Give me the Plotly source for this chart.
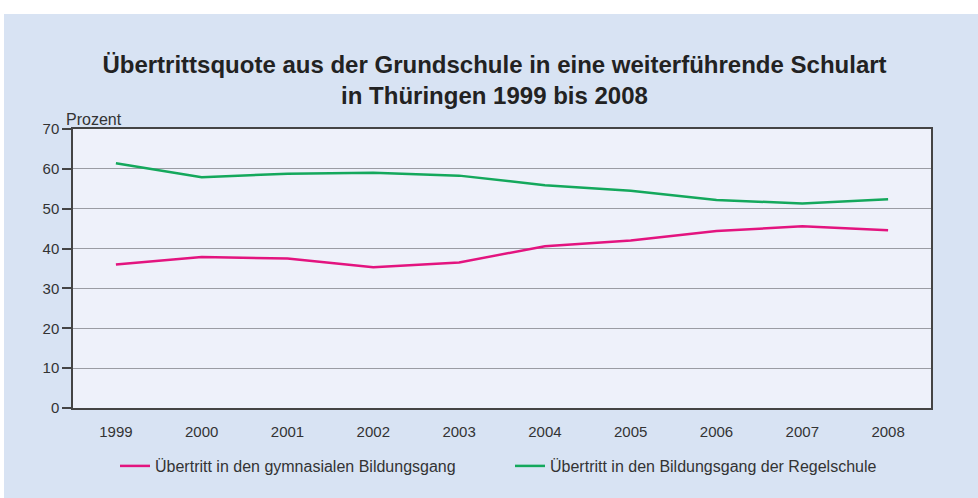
import plotly.graph_objects as go

years = ["1999", "2000", "2001", "2002", "2003", "2004", "2005", "2006", "2007", "2008"]
gymnasium = [36.0, 37.9, 37.5, 35.3, 36.5, 40.6, 42.0, 44.4, 45.6, 44.6]
regelschule = [61.4, 57.9, 58.8, 59.0, 58.3, 55.9, 54.5, 52.2, 51.3, 52.4]
name_gym = "Übertritt in den gymnasialen Bildungsgang"
name_reg = "Übertritt in den Bildungsgang der Regelschule"

PINK = "#e3147f"
GREEN = "#14a85c"
TXT = "#333333"
FONT = "Liberation Sans, Arial, sans-serif"

fig = go.Figure()
fig.add_trace(go.Scatter(x=years, y=gymnasium, mode="lines", name=name_gym,
                         line=dict(color=PINK, width=2.5)))
fig.add_trace(go.Scatter(x=years, y=regelschule, mode="lines", name=name_reg,
                         line=dict(color=GREEN, width=2.5)))

W, H = 978, 498
L, R, T, B = 73, 47, 129, 90
pw, ph = W - L - R, H - T - B

def px_x(x):
    return (x - L) / pw

def px_y(y):
    return (H - B - y) / ph

fig.update_layout(
    width=W, height=H,
    margin=dict(l=L, r=R, t=T, b=B, autoexpand=False),
    paper_bgcolor="#d8e3f3",
    plot_bgcolor="#eef1fa",
    font=dict(family=FONT, size=15, color=TXT),
    title=dict(
        text="<b>Übertrittsquote aus der Grundschule in eine weiterführende Schulart<br>in Thüringen 1999 bis 2008</b>",
        x=494.5 / W, xanchor="center", y=1 - 73 / H, yanchor="top",
        font=dict(family=FONT, size=24, color="#222222"),
    ),
    showlegend=True,
    legend=dict(orientation="h", xref="container", yref="container",
                x=115 / W, xanchor="left", y=1 - 466 / H, yanchor="middle",
                bgcolor="rgba(0,0,0,0)", entrywidth=350, entrywidthmode="pixels",
                font=dict(family=FONT, size=16, color=TXT)),
    xaxis=dict(
        type="category", range=[-0.5, 9.5], showgrid=False,
        showline=True, linecolor="#444444", linewidth=1.5, mirror=True,
        ticks="outside", ticklen=9, tickcolor="rgba(0,0,0,0)",
        tickfont=dict(family=FONT, size=15, color=TXT), zeroline=False,
    ),
    yaxis=dict(
        range=[0, 70], dtick=10, showgrid=True, gridcolor="#9a9ca3", gridwidth=1.2,
        showline=True, linecolor="#444444", linewidth=1.5, mirror=True,
        ticks="outside", ticklen=9, tickcolor="#444444", tickwidth=1.5,
        tickfont=dict(family=FONT, size=15, color=TXT), zeroline=False,
    ),
    annotations=[dict(text="Prozent", xref="paper", yref="paper",
                      x=px_x(64), y=px_y(119), xanchor="left", yanchor="middle",
                      showarrow=False, font=dict(family=FONT, size=16, color=TXT))],
    shapes=[
        dict(type="rect", xref="paper", yref="paper", x0=px_x(-5), x1=px_x(W + 5),
             y0=px_y(14), y1=px_y(-5), fillcolor="white", line=dict(width=0), layer="below"),
        dict(type="rect", xref="paper", yref="paper", x0=px_x(-5), x1=px_x(4),
             y0=px_y(H + 5), y1=px_y(-5), fillcolor="white", line=dict(width=0), layer="below"),
    ],
)

fig.write_html("out.html", config={"displayModeBar": False},
               post_script="document.body.style.margin='0';")
